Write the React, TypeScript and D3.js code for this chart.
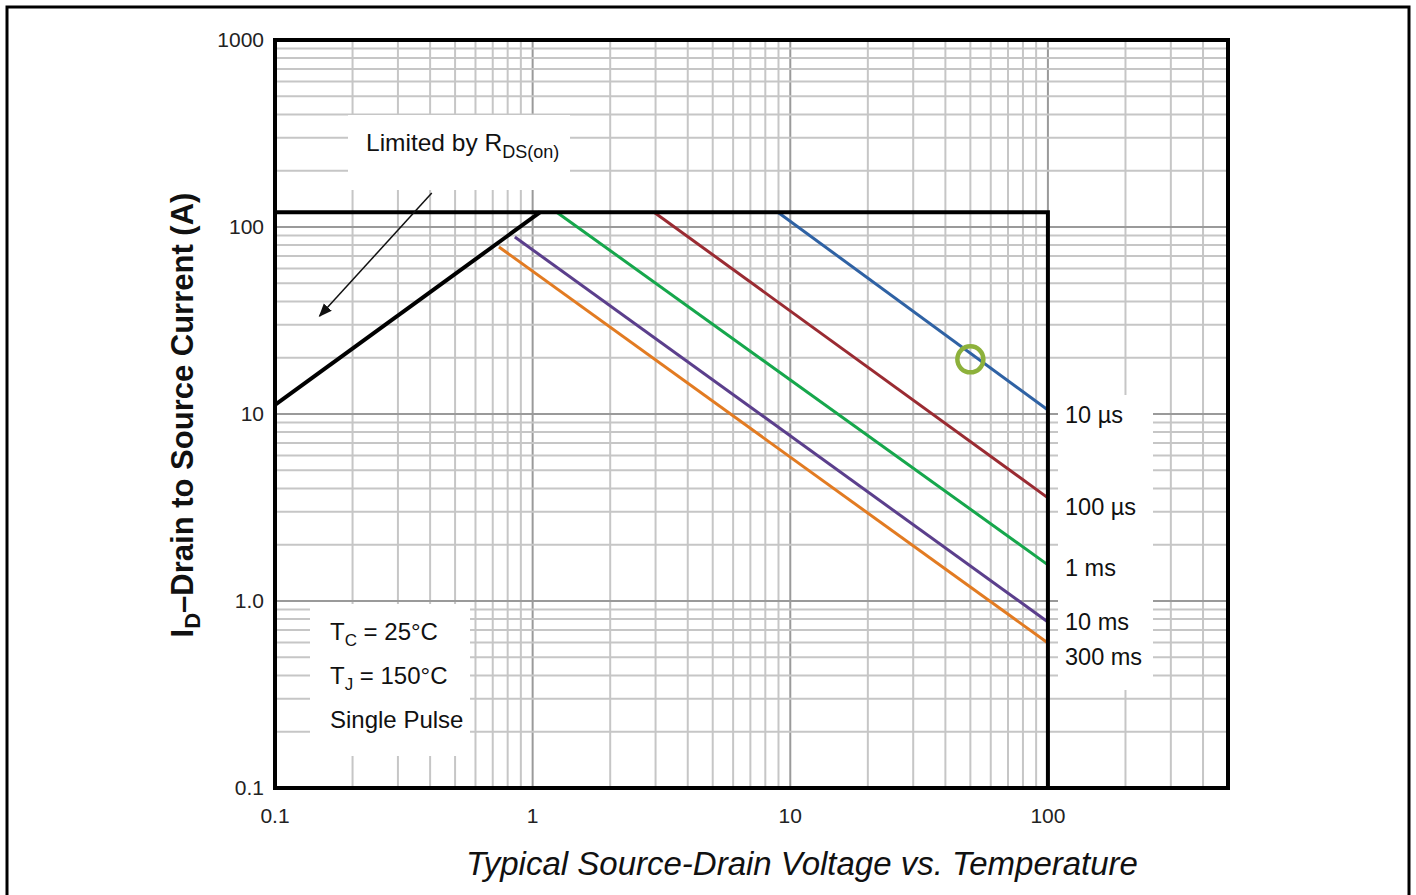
import React from "react";
import * as d3 from "d3";

// ---- data ----
const xTickValues = [0.1, 1, 10, 100];
const xTickLabels = ["0.1", "1", "10", "100"];
const yTickValues = [0.1, 1, 10, 100, 1000];
const yTickLabels = ["0.1", "1.0", "10", "100", "1000"];

const currentLimit = 120; // A
const voltageLimit = 100; // V
const rdsLine: [number, number][] = [[0.1, 11.2], [1.07, 120]];

const pulseNames = ["10 µs", "100 µs", "1 ms", "10 ms", "300 ms"];
const pulseColors = ["#2f62a4", "#9a2b32", "#16a74c", "#5b3f8c", "#e27b22"];
const pulseStart: [number, number][] = [[8.95, 120], [2.96, 120], [1.24, 120], [0.853, 88.4], [0.74, 78.2]];
const pulseEnd: [number, number][] = [[100, 10.5], [100, 3.56], [100, 1.56], [100, 0.773], [100, 0.596]];
const pulseLabelY = [415, 507, 568, 622, 657];

const marker: [number, number] = [50, 19.6];
const arrowFrom: [number, number] = [0.406, 152];
const arrowTo: [number, number] = [0.149, 33.4];

const W = 1416, H = 895;
const x = d3.scaleLog().domain([0.1, 500]).range([275, 1228]);
const y = d3.scaleLog().domain([0.1, 1000]).range([788, 40]);

function gridVals(lo: number, hi: number) {
  const out: { v: number; major: boolean }[] = [];
  for (let dec = lo; dec < hi; dec *= 10) {
    for (let m = 1; m <= 9; m++) {
      const v = +(dec * m).toPrecision(6);
      if (v > lo * 1.0001 && v < hi * 0.9999) out.push({ v, major: m === 1 });
    }
  }
  return out;
}

const font = "'Liberation Sans', Arial, Helvetica, sans-serif";

export default function App() {
  const xg = gridVals(0.1, 500);
  const yg = gridVals(0.1, 1000);
  const line = d3.line<[number, number]>().x(d => x(d[0])).y(d => y(d[1]));
  const boundary: [number, number][] = [[0.1, currentLimit], [voltageLimit, currentLimit], [voltageLimit, 0.1]];
  return (
    <svg width={W} height={H} style={{ position: "absolute", left: 0, top: 0, background: "#fff" }} fontFamily={font}>
      <defs>
        <marker id="ah" viewBox="0 0 10 10" refX="9" refY="5" markerWidth="9" markerHeight="9" orient="auto">
          <path d="M0,1 L10,5 L0,9 Z" fill="#111" />
        </marker>
      </defs>
      <rect x={0} y={0} width={W} height={H} fill="#fff" />
      <rect x={7} y={7} width={1402} height={900} fill="none" stroke="#000" strokeWidth={3} />
      {/* grid */}
      <g>
        {xg.map((g, i) => (
          <line key={"gx" + i} x1={x(g.v)} x2={x(g.v)} y1={y(1000)} y2={y(0.1)}
            stroke={g.major ? "#9a9a9a" : "#c6c6c6"} strokeWidth={2} />
        ))}
        {yg.map((g, i) => (
          <line key={"gy" + i} y1={y(g.v)} y2={y(g.v)} x1={x(0.1)} x2={x(500)}
            stroke={g.major ? "#9a9a9a" : "#c6c6c6"} strokeWidth={2} />
        ))}
      </g>
      {/* white label boxes */}
      <rect x={348} y={115} width={222} height={75} fill="#fff" />
      <rect x={310} y={604} width={160} height={152} fill="#fff" />
      <rect x={1058} y={395} width={95} height={295} fill="#fff" />
      {/* frame */}
      <rect x={x(0.1)} y={y(1000)} width={x(500) - x(0.1)} height={y(0.1) - y(1000)} fill="none" stroke="#000" strokeWidth={4} />
      {/* pulse lines */}
      {pulseNames.map((n, i) => (
        <path key={n} d={line([pulseStart[i], pulseEnd[i]]) || ""} fill="none" stroke={pulseColors[i]} strokeWidth={3} />
      ))}
      {/* RDS(on) line and SOA boundary */}
      <path d={line(rdsLine) || ""} fill="none" stroke="#000" strokeWidth={4} />
      <path d={line(boundary) || ""} fill="none" stroke="#000" strokeWidth={4} />
      {/* arrow */}
      <line x1={x(arrowFrom[0])} y1={y(arrowFrom[1])} x2={x(arrowTo[0])} y2={y(arrowTo[1])} stroke="#111" strokeWidth={1.5} markerEnd="url(#ah)" />
      {/* marker */}
      <circle cx={x(marker[0])} cy={y(marker[1])} r={13} fill="none" stroke="#8db13b" strokeWidth={4.5} />
      {/* tick labels */}
      {yTickValues.map((v, i) => (
        <text key={"yt" + i} x={264} y={y(v) + 7} textAnchor="end" fontSize={21} fill="#222">{yTickLabels[i]}</text>
      ))}
      {xTickValues.map((v, i) => (
        <text key={"xt" + i} x={x(v)} y={823} textAnchor="middle" fontSize={21} fill="#222">{xTickLabels[i]}</text>
      ))}
      {/* pulse labels */}
      {pulseNames.map((n, i) => (
        <text key={"pl" + i} x={1065} y={pulseLabelY[i] + 8} fontSize={23.5} fill="#111">{n}</text>
      ))}
      {/* annotations */}
      <text x={366} y={151} fontSize={24.5} fill="#111">
        Limited by R<tspan fontSize={18} dy={7}>DS(on)</tspan>
      </text>
      <text x={330} y={640} fontSize={24} fill="#111">
        T<tspan fontSize={17} dy={6}>C</tspan><tspan dy={-6}> = 25°C</tspan>
      </text>
      <text x={330} y={684} fontSize={24} fill="#111">
        T<tspan fontSize={17} dy={6}>J</tspan><tspan dy={-6}> = 150°C</tspan>
      </text>
      <text x={330} y={728} fontSize={24} fill="#111">Single Pulse</text>
      {/* axis titles */}
      <text transform="translate(193,415) rotate(-90)" textAnchor="middle" fontSize={31} fontWeight="bold" fill="#111">
        I<tspan fontSize={22} dy={7}>D</tspan><tspan dy={-7}>–Drain to Source Current (A)</tspan>
      </text>
      <text x={802} y={875} textAnchor="middle" fontSize={33} fontStyle="italic" fill="#111">
        Typical Source-Drain Voltage vs. Temperature
      </text>
    </svg>
  );
}
